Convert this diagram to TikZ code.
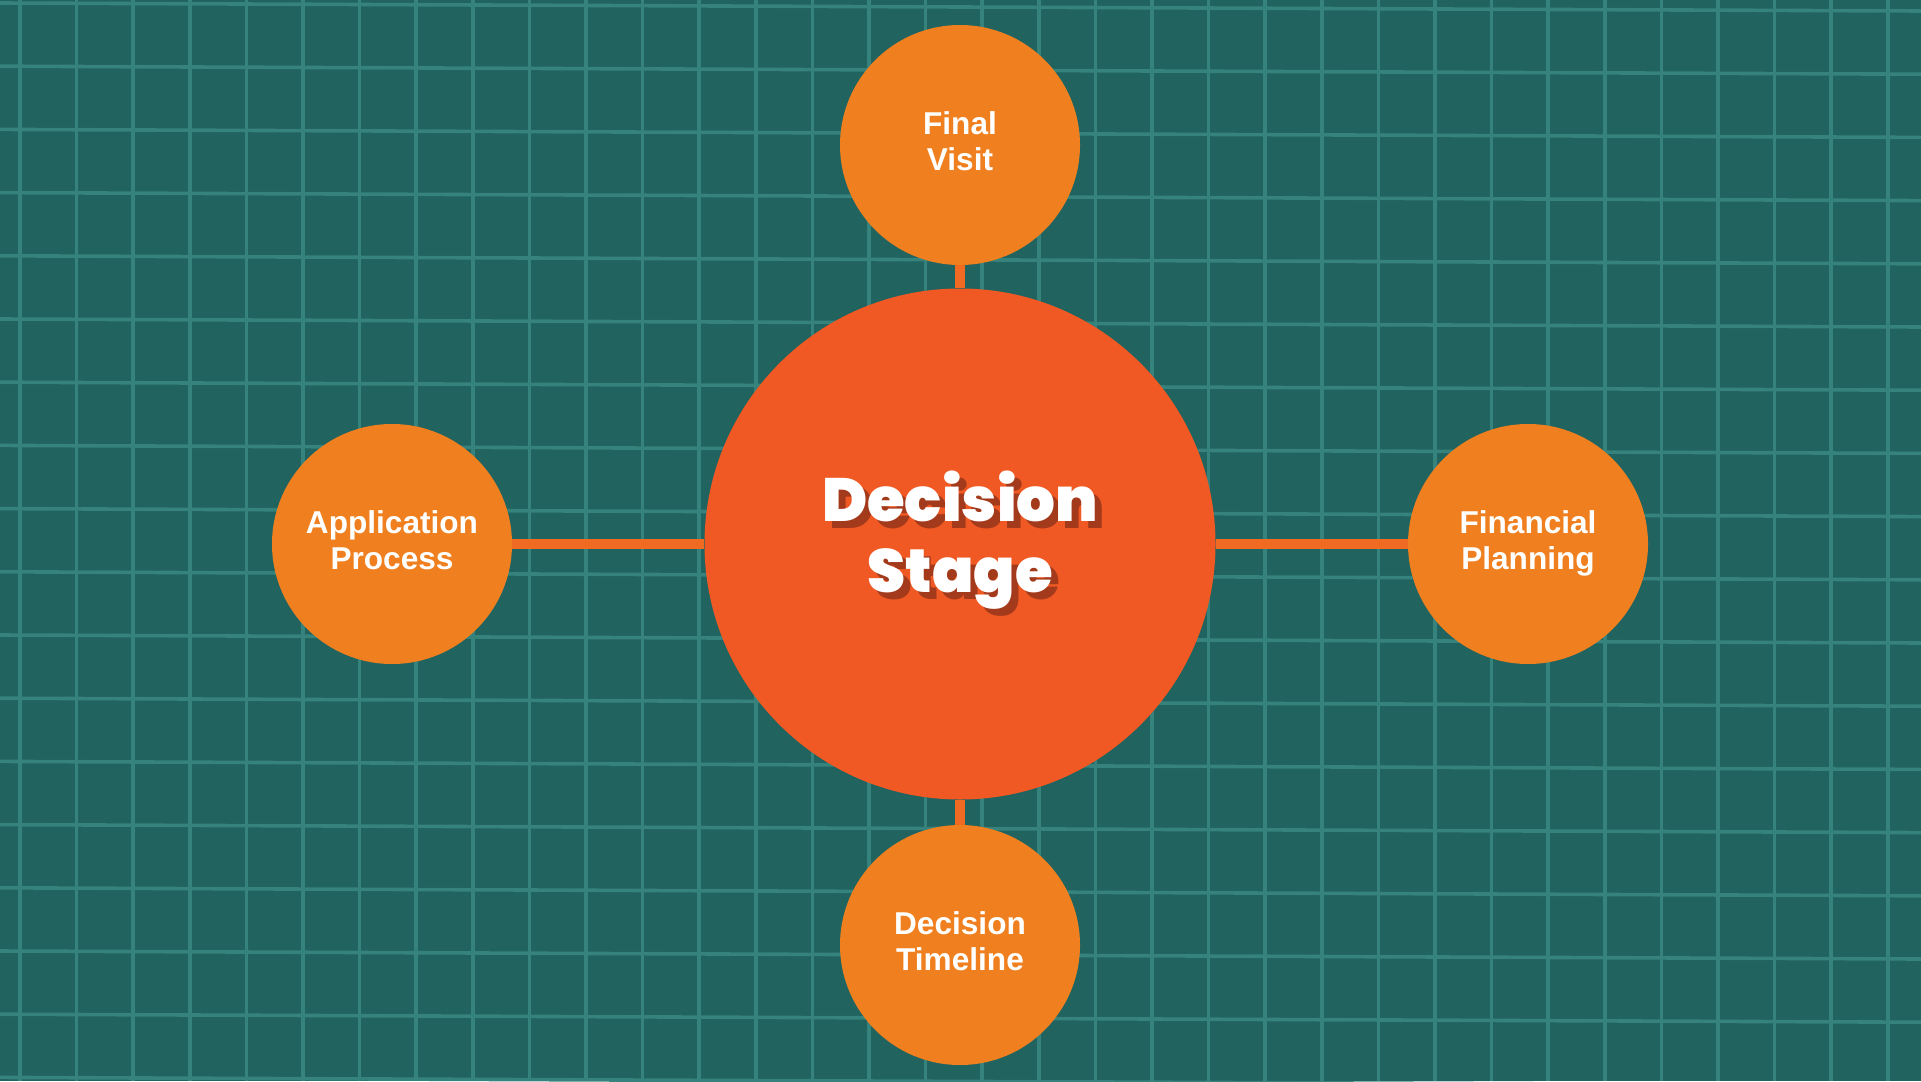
\documentclass[tikz,border=0pt]{standalone}
\usepackage{fontspec}
\setmainfont{Liberation Sans}
\newfontfamily\headfont{Poppins Black}
\usetikzlibrary{positioning}

\definecolor{boardbg}{RGB}{33,99,94}
\definecolor{boardline}{RGB}{54,130,124}
\definecolor{hubred}{RGB}{240,89,35}
\definecolor{spokeorange}{RGB}{240,128,31}
\definecolor{linkorange}{RGB}{241,106,34}
\definecolor{shadowred}{RGB}{163,58,28}

\tikzset{
  gridline/.style={draw=boardline, line width=1.8pt},
  hub/.style={circle, fill=hubred, minimum size=255.5pt, inner sep=0pt},
  spoke/.style={circle, fill=spokeorange, minimum size=120pt, inner sep=0pt,
    text=white, align=center, text height=25pt, text depth=0pt,
    font=\bfseries\fontsize{15.8}{18}\selectfont},
  hubtext/.style={align=center, font=\headfont\fontsize{30.5}{35.5}\selectfont},
  link/.style={draw=linkorange, line width=5pt}
}

\begin{document}
\begin{tikzpicture}[x=0.5pt, y=-0.5pt]
  \useasboundingbox (0,0) rectangle (1921,1081);
  % board
  \fill[boardbg] (0,0) rectangle (1921,1081);
  \foreach \i in {0,...,33}
    \draw[gridline] ({20+56.6*\i},0) -- ({20+56.6*\i},1081);
  \foreach \j in {0,...,17}
    \draw[gridline] (0,{3+63.2*\j}) -- (1921,{11+63.2*\j});

  % circles
  \node[hub] (stage) at (960,544) {};
  \node[spoke] (visit) at (960,145) {Final\\Visit};
  \node[spoke] (apply) at (392,544) {Application\\Process};
  \node[spoke] (money) at (1528,544) {Financial\\Planning};
  \node[spoke] (timeline) at (960,945) {Decision\\Timeline};

  % links
  \draw[link] (stage) -- (visit);
  \draw[link] (stage) -- (apply);
  \draw[link] (stage) -- (money);
  \draw[link] (stage) -- (timeline);

  % title with shadow
  \node[hubtext, text=shadowred] (stageshadow) at (967,547) {Decision\\Stage};
  \node[hubtext, text=white] (stagetitle) at (960,540) {Decision\\Stage};
\end{tikzpicture}
\end{document}
